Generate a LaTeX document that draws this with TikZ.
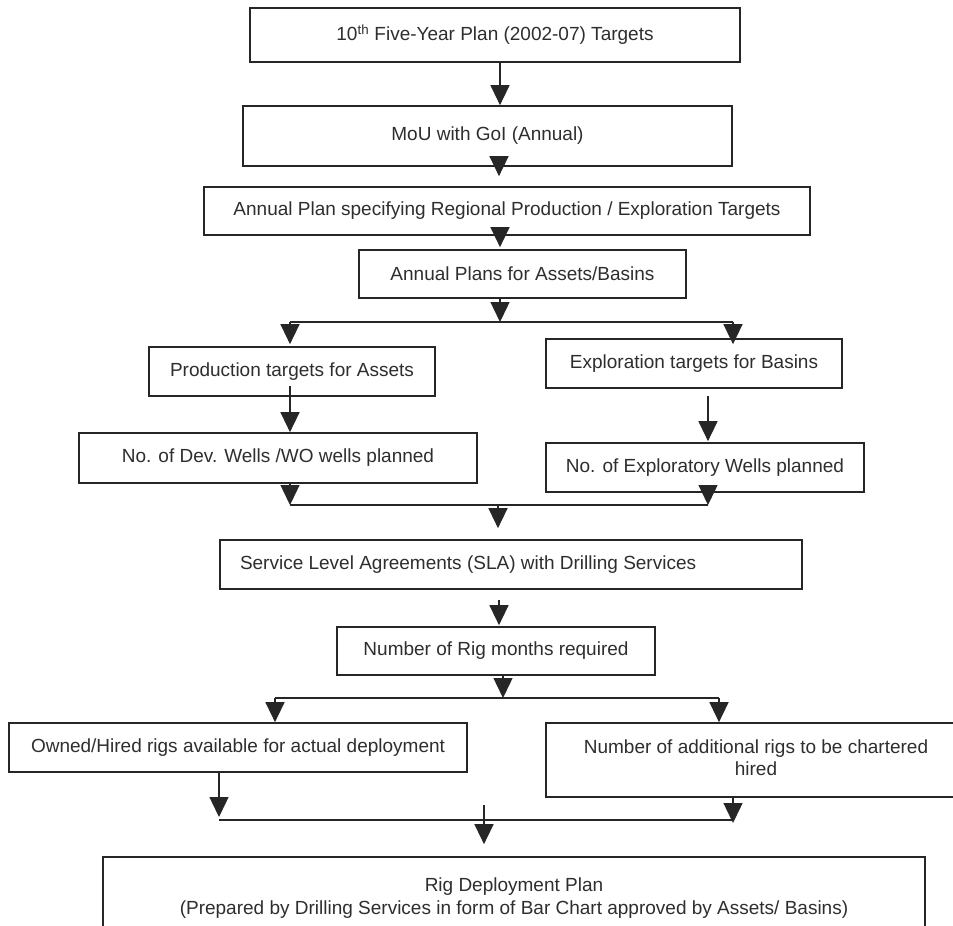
\documentclass[tikz,border=0pt]{standalone}
\usepackage{fontspec}
\setmainfont{Liberation Sans}
\usetikzlibrary{arrows.meta}
\definecolor{ink}{HTML}{262626}
\definecolor{txt}{HTML}{2E2E2E}
\begin{document}
\begin{tikzpicture}[x=1pt,y=-1pt,
  font=\fontsize{19}{23}\selectfont,
  box/.style={draw=ink,line width=1.7pt,inner sep=0pt,text=txt,align=center},
  arr/.style={draw=ink,line width=1.4pt,-{Triangle[width=19pt,length=20pt]}},
  ln/.style={draw=ink,line width=1.4pt}]
\useasboundingbox (0,0) rectangle (953,926);
\clip (0,0) rectangle (953,926);
\fill[white] (0,0) rectangle (953,926);

% boxes
\node[box,minimum width=490pt,minimum height=54pt] (b1) at (495,35) {10\textsuperscript{th} Five-Year Plan (2002-07) Targets};
\node[box,minimum width=489pt,minimum height=60pt] (b2) at (487.5,136) {MoU with GoI (Annual)};
\node[box,minimum width=606pt,minimum height=48pt] (b3) at (507,211) {Annual Plan specifying Regional Production / Exploration Targets};
\node[box,minimum width=327pt,minimum height=48pt] (b4) at (522.5,274) {Annual Plans for Assets/Basins};
\node[box,minimum width=286pt,minimum height=49pt] (prod) at (292,371.5) {Production targets for Assets};
\node[box,minimum width=296pt,minimum height=49pt] (expl) at (694,363.5) {Exploration targets for Basins};
\node[box,minimum width=398pt,minimum height=50pt] (dev) at (278,458) {No. of Dev. Wells /WO wells planned};
\node[box,minimum width=318pt,minimum height=49pt] (explw) at (705,467.5) {No. of Exploratory Wells planned};
\node[box,minimum width=582pt,minimum height=49pt] (sla) at (511,564.5) {\makebox[582pt][l]{\hspace{20pt}Service Level Agreements (SLA) with Drilling Services}};
\node[box,minimum width=318pt,minimum height=48pt] (rigm) at (496,651) {Number of Rig months required};
\node[box,minimum width=458pt,minimum height=49pt] (owned) at (238,747.5) {Owned/Hired rigs available for actual deployment};
\node[box,minimum width=414pt,minimum height=74pt] (addl) at (753,760) {\makebox[414pt]{\hspace{6pt}\begin{tabular}{@{}c@{}}Number of additional rigs to be chartered\\[-1pt] hired\end{tabular}}};
\node[box,minimum width=822pt,minimum height=82pt] (rdp) at (514,898) {Rig Deployment Plan\\ (Prepared by Drilling Services in form of Bar Chart approved by Assets/ Basins)};

% junction coordinates
\coordinate (v500) at (500,0);
\coordinate (v499) at (499,0);
\coordinate (j1) at (500,322);
\coordinate (j1L) at (290,322);
\coordinate (j1R) at (733,322);
\coordinate (v708) at (708,0);
\coordinate (m1L) at (290,505);
\coordinate (m1R) at (708,505);
\coordinate (m1) at (498,505);
\coordinate (s2top) at (499,600);
\coordinate (j2) at (503,698);
\coordinate (j2L) at (275,698);
\coordinate (j2R) at (719,698);
\coordinate (m2L) at (219,820);
\coordinate (m2R) at (733,820);
\coordinate (m2top) at (484,805);

% connectors
\draw[arr] (b1.south -| v500) -- (b2.north -| v500);
\draw[arr,shorten >=10pt] (b2.south -| v499) -- (b3.north -| v499);
\draw[arr,shorten >=2pt] (b3.south -| v500) -- (b4.north -| v500);
\draw[arr] (b4.south -| j1) -- (j1);
\draw[ln] (j1L) -- (j1R);
\draw[arr,shorten >=2pt] (j1L) -- (prod.north -| j1L);
\draw[arr,shorten >=-6pt] (j1R) -- (expl.north -| j1R);
\draw[arr] ([yshift=11pt]prod.south -| j1L) -- (dev.north -| j1L);
\draw[arr,shorten >=1pt] ([yshift=-7pt]expl.south -| v708) -- (explw.north -| v708);
\draw[arr] (dev.south -| m1L) -- (m1L);
\draw[arr] (explw.south -| m1R) -- (m1R);
\draw[ln] (m1L) -- (m1R);
\draw[arr,shorten >=11pt] (m1) -- (sla.north -| m1);
\draw[arr,shorten >=1pt] (s2top) -- (rigm.north -| s2top);
\draw[arr] (rigm.south -| j2) -- (j2);
\draw[ln] (j2L) -- (j2R);
\draw[arr] (j2L) -- (owned.north -| j2L);
\draw[arr] (j2R) -- (addl.north -| j2R);
\draw[arr,shorten >=3pt] (owned.south -| m2L) -- (m2L);
\draw[arr,shorten >=-3pt] (addl.south -| m2R) -- (m2R);
\draw[ln] (m2L) -- (m2R);
\draw[arr,shorten >=12pt] (m2top) -- (rdp.north -| m2top);
\end{tikzpicture}
\end{document}
